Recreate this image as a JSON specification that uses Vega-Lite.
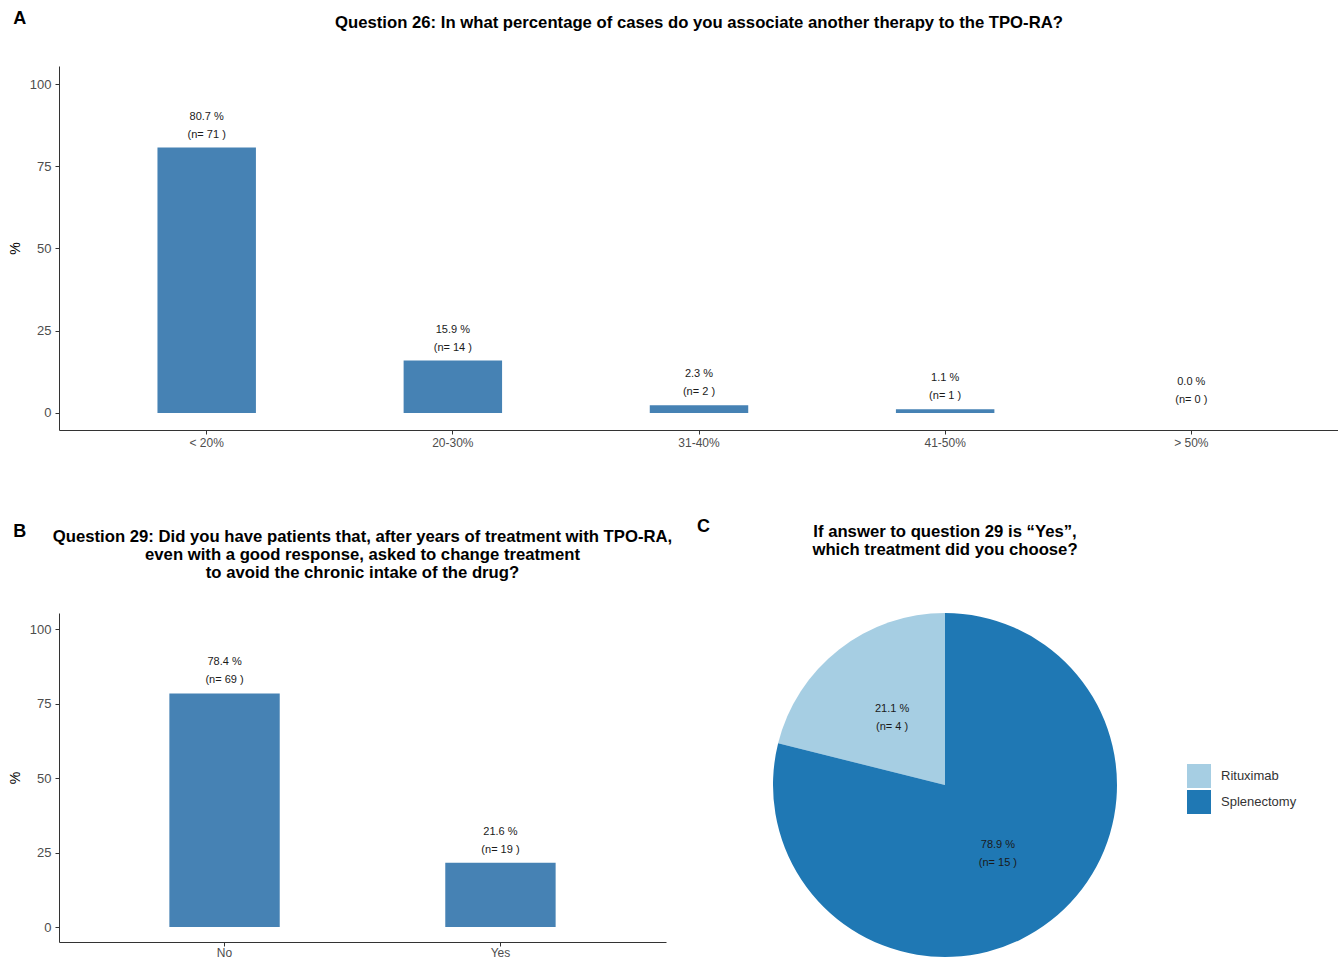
{
  "$schema": "https://vega.github.io/schema/vega-lite/v6.json",
  "background": "white",
  "padding": {"left": 8, "top": 10, "right": 0, "bottom": 0},
  "config": {
    "font": "Liberation Sans",
    "view": {"stroke": null},
    "axis": {"domainColor": "#333333", "tickColor": "#333333", "tickSize": 4, "labelColor": "#4d4d4d", "grid": false, "titleFontWeight": "normal", "titleColor": "#000000", "titleFontSize": 14, "domainWidth": 1, "tickWidth": 1},
    "axisX": {"labelFontSize": 12, "labelPadding": 3, "labelAngle": 0},
    "axisY": {"labelFontSize": 13, "labelPadding": 4, "titlePadding": 7},
    "title": {"fontSize": 16.7, "fontWeight": "bold", "color": "#000000", "lineHeight": 18}
  },
  "spacing": 70,
  "resolve": {"scale": {"color": "independent"}, "legend": {"color": "independent"}},
  "vconcat": [
    {
      "title": {"text": "A", "anchor": "start", "frame": "bounds", "fontSize": 18, "dx": 5, "dy": 17},
      "vconcat": [
        {
          "width": 1280,
          "height": 364,
          "title": {"text": "Question 26: In what percentage of cases do you associate another therapy to the TPO-RA?", "anchor": "middle", "offset": 34},
          "data": {"values": [
            {"category": "< 20%", "pct": 80.7, "n": 71},
            {"category": "20-30%", "pct": 15.9, "n": 14},
            {"category": "31-40%", "pct": 2.3, "n": 2},
            {"category": "41-50%", "pct": 1.1, "n": 1},
            {"category": "> 50%", "pct": 0.0, "n": 0}
          ]},
          "transform": [{"calculate": "[format(datum.pct, '.1f') + ' %', '(n= ' + datum.n + ' )']", "as": "label"}],
          "encoding": {
            "x": {"field": "category", "type": "nominal", "sort": null, "scale": {"paddingInner": 0.6, "paddingOuter": 0.4}, "axis": {"title": null}},
            "y": {"field": "pct", "type": "quantitative", "scale": {"domain": [-5.2, 105.5], "nice": false}, "axis": {"values": [0, 25, 50, 75, 100], "title": "%"}}
          },
          "layer": [
            {"mark": {"type": "bar", "color": "#4682b4"}},
            {"mark": {"type": "text", "baseline": "bottom", "dy": -26, "lineHeight": 18, "fontSize": 11, "color": "#1a1a1a"}, "encoding": {"text": {"field": "label", "type": "nominal"}}}
          ]
        }
      ]
    },
    {
      "spacing": 24,
      "resolve": {"scale": {"color": "independent"}, "legend": {"color": "independent"}},
      "hconcat": [
        {
          "title": {"text": "B", "anchor": "start", "frame": "bounds", "fontSize": 18, "dx": 5, "dy": 16},
          "vconcat": [
            {
              "width": 607,
              "height": 329,
              "title": {"text": ["Question 29: Did you have patients that, after years of treatment with TPO-RA,", "even with a good response, asked to change treatment", "to avoid the chronic intake of the drug?"], "anchor": "middle", "offset": 31},
              "data": {"values": [
                {"answer": "No", "pct": 78.4, "n": 69},
                {"answer": "Yes", "pct": 21.6, "n": 19}
              ]},
              "transform": [{"calculate": "[format(datum.pct, '.1f') + ' %', '(n= ' + datum.n + ' )']", "as": "label"}],
              "encoding": {
                "x": {"field": "answer", "type": "nominal", "sort": null, "scale": {"paddingInner": 0.6, "paddingOuter": 0.4}, "axis": {"title": null, "labelPadding": 1}},
                "y": {"field": "pct", "type": "quantitative", "scale": {"domain": [-5.0, 105.4], "nice": false}, "axis": {"values": [0, 25, 50, 75, 100], "title": "%"}}
              },
              "layer": [
                {"mark": {"type": "bar", "color": "#4682b4"}},
                {"mark": {"type": "text", "baseline": "bottom", "dy": -26, "lineHeight": 18, "fontSize": 11, "color": "#1a1a1a"}, "encoding": {"text": {"field": "label", "type": "nominal"}}}
              ]
            }
          ]
        },
        {
          "title": {"text": "C", "anchor": "start", "frame": "bounds", "fontSize": 18, "dx": -76, "dy": 16},
          "resolve": {"scale": {"color": "independent"}, "legend": {"color": "independent"}},
          "vconcat": [
            {
              "width": 344,
              "height": 344,
              "title": {"text": ["If answer to question 29 is \u201cYes\u201d,", "which treatment did you choose?"], "anchor": "middle", "offset": 54},
              "data": {"values": [
                {"treatment": "Rituximab", "pct": 21.1, "n": 4},
                {"treatment": "Splenectomy", "pct": 78.9, "n": 15}
              ]},
              "transform": [{"calculate": "[format(datum.pct, '.1f') + ' %', '(n= ' + datum.n + ' )']", "as": "label"}],
              "encoding": {
                "theta": {"field": "pct", "type": "quantitative", "stack": true},
                "order": {"field": "treatment", "sort": "descending"},
                "color": {"field": "treatment", "type": "nominal", "scale": {"domain": ["Rituximab", "Splenectomy"], "range": ["#a6cee3", "#1f78b4"]}, "legend": {"title": null, "orient": "none", "legendX": 414, "legendY": 151, "symbolType": "square", "symbolSize": 576, "symbolStrokeWidth": 0, "symbolOpacity": 1, "labelFontSize": 13, "labelColor": "#333333", "rowPadding": 2, "labelOffset": 10, "padding": 0}}
              },
              "layer": [
                {"mark": {"type": "arc"}},
                {"mark": {"type": "text", "radius": 86, "dy": -8, "lineHeight": 18, "fontSize": 11, "color": "#1a1a1a"}, "encoding": {"text": {"field": "label", "type": "nominal"}, "color": {"value": "#1a1a1a"}}}
              ]
            }
          ]
        }
      ]
    }
  ]
}
